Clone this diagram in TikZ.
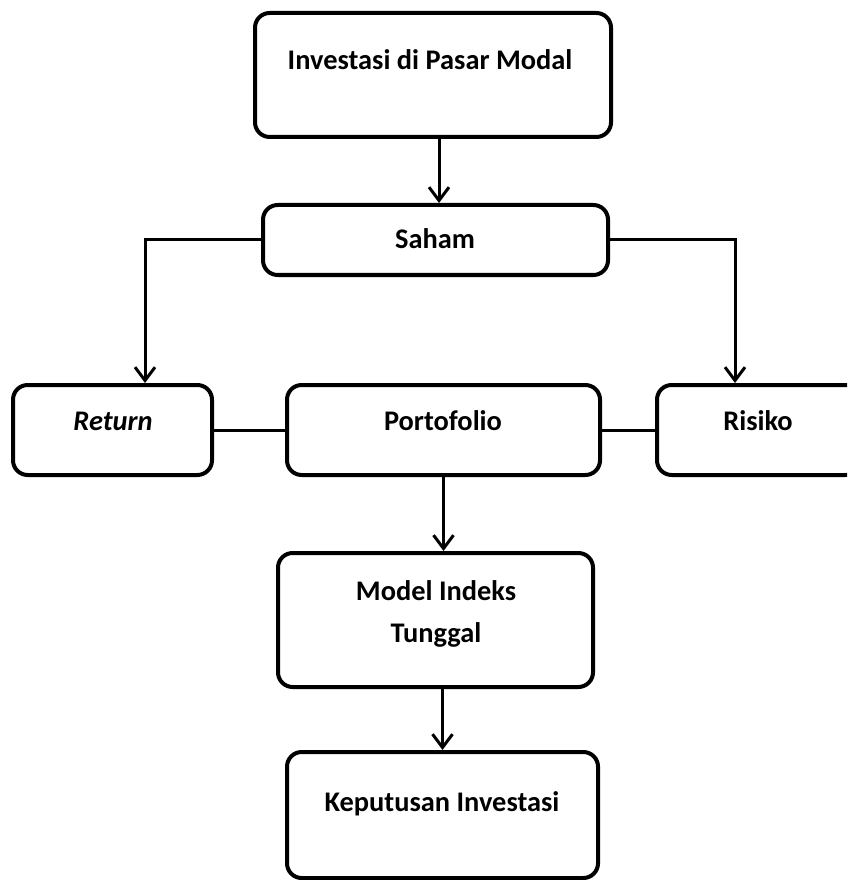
\documentclass[tikz,border=0pt]{standalone}
\usepackage{fontspec}
\setmainfont{Carlito}
\usetikzlibrary{arrows.meta}
\begin{document}
\begin{tikzpicture}[x=0.75pt,y=-0.75pt,
 box/.style={draw, line width=3pt, rounded corners=11pt, inner sep=0pt},
 txt/.style={font=\fontsize{21.3}{26}\selectfont\bfseries, anchor=base, inner sep=0pt},
 arr/.style={line width=2.25pt, -{Straight Barb[length=10pt,width=15pt]}},
 con/.style={line width=2.25pt}]
\useasboundingbox (0,0) rectangle (847,880);
\clip (0,0) rectangle (847,880);
% boxes
\node[box, minimum width=267pt, minimum height=93pt] (b1) at (433,75) {};
\node[box, minimum width=258.75pt, minimum height=52.5pt] (s) at (435.5,240) {};
\node[box, minimum width=149.25pt, minimum height=67.5pt] (r) at (112.5,430) {};
\node[box, minimum width=234.75pt, minimum height=67.5pt] (p) at (443.5,430) {};
\node[box, minimum width=152.25pt, minimum height=67.5pt] (k) at (758.5,430) {};
\node[box, minimum width=236.25pt, minimum height=100.5pt] (m) at (435.5,620) {};
\node[box, minimum width=233.25pt, minimum height=94.5pt] (kp) at (442.5,815) {};
% texts
\node[txt] (t1) at (430,70) {Investasi di Pasar Modal};
\node[txt] (t2) at (435,248) {Saham};
\node[txt] (t3) at (113,430) {\itshape Return};
\node[txt] (t4) at (443,430) {Portofolio};
\node[txt] (t5) at (758,430) {Risiko};
\node[txt] (t6a) at (436,600) {Model Indeks};
\node[txt] (t6b) at (436,642) {Tunggal};
\node[txt] (t7) at (442,811) {Keputusan Investasi};
% connectors
\coordinate (cL) at (145,240);
\coordinate (cR) at (735,240);
\draw[arr] ([xshift=4.5pt]b1.south) -- ([xshift=4.5pt]b1.south |- s.north);
\draw[arr] (s.west) -- (cL) -- (cL |- r.north);
\draw[arr] (s.east) -- (cR) -- (cR |- k.north);
\draw[con] (r.east) -- (p.west);
\draw[con] (p.east) -- (k.west);
\draw[arr] (p.south) -- (p.south |- m.north);
\draw[arr] (kp.north |- m.south) -- (kp.north);
\end{tikzpicture}
\end{document}
